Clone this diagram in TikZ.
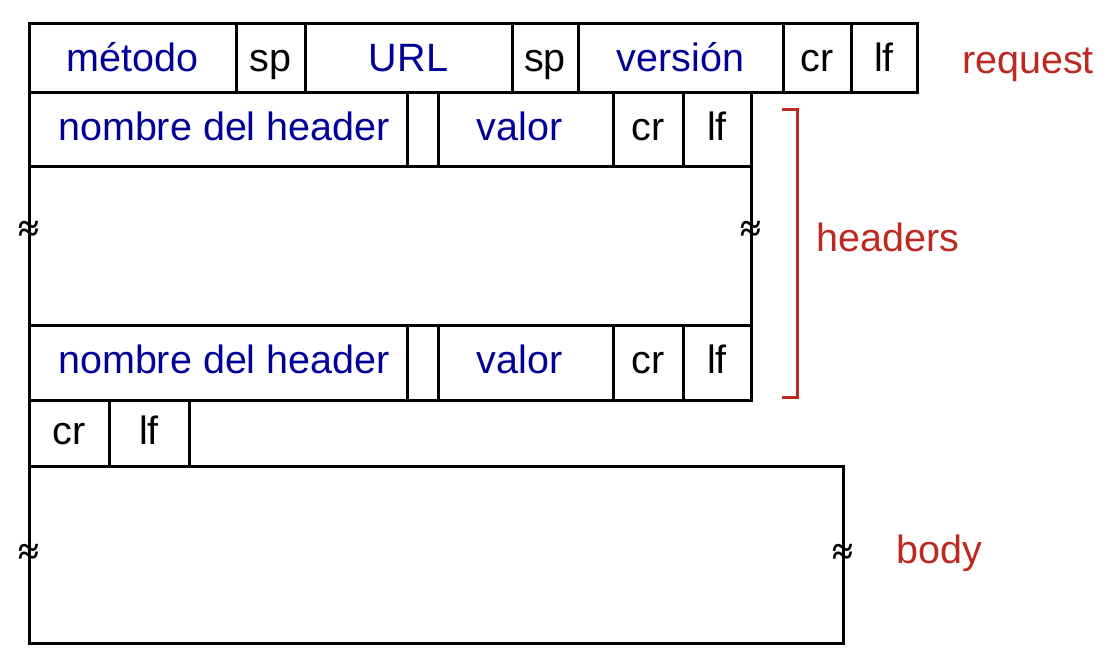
\documentclass[tikz,border=0pt]{standalone}
\usepackage{fontspec}
\setmainfont{Liberation Sans}
\newfontfamily\cutfont{Liberation Serif}
\usepackage{tikz}
\usetikzlibrary{positioning}

\definecolor{fieldblue}{RGB}{0,0,150}
\definecolor{tagred}{RGB}{190,40,35}

\tikzset{
    cell/.style={draw, line width=3pt, anchor=north west, outer sep=0pt,
        inner sep=0pt, text height=30pt, text depth=8pt, minimum height=#1},
    cell/.default=69pt,
    reqcell/.style={cell, text depth=3pt},
    field/.style={text=fieldblue},
    tag/.style={text=tagred, text height=30pt, text depth=8pt},
    cut/.style={font=\cutfont\fontsize{38}{38}\selectfont\bfseries, inner sep=0pt},
}

\begin{document}
\begin{tikzpicture}[x=1pt, y=-1pt, font=\fontsize{39.5}{44}\selectfont]
    \useasboundingbox (0,0) rectangle (1114,658);
    % request line
    \node[reqcell, field, minimum width=207pt] (met) at (29,24) {método};
    \node[reqcell, minimum width=69pt] (sp1) at (met.north east) {sp};
    \node[reqcell, field, minimum width=207pt] (url) at (sp1.north east) {URL};
    \node[reqcell, minimum width=66pt] (sp2) at (url.north east) {sp};
    \node[reqcell, field, minimum width=205pt] (ver) at (sp2.north east) {versión};
    \node[reqcell, minimum width=68pt] (cr0) at (ver.north east) {cr};
    \node[reqcell, minimum width=66pt] (lf0) at (cr0.north east) {lf};
    % header lines
    \node[cell=74pt, field, minimum width=378pt] (nom1) at (met.south west) {\hspace{12pt}nombre del header};
    \node[cell=74pt, minimum width=31pt] (sep1) at (nom1.north east) {};
    \node[cell=74pt, field, minimum width=175pt] (val1) at (sep1.north east) {valor\kern12pt};
    \node[cell=74pt, minimum width=70pt] (cr1) at (val1.north east) {cr};
    \node[cell=74pt, minimum width=68pt] (lf1) at (cr1.north east) {lf};
    \node[cell=158pt, minimum width=722pt] (hdrs) at (nom1.south west) {};
    \node[cell=75pt, field, minimum width=378pt] (nom2) at (hdrs.south west) {\hspace{12pt}nombre del header};
    \node[cell=75pt, minimum width=31pt] (sep2) at (nom2.north east) {};
    \node[cell=75pt, field, minimum width=175pt] (val2) at (sep2.north east) {valor\kern12pt};
    \node[cell=75pt, minimum width=70pt] (cr2) at (val2.north east) {cr};
    \node[cell=75pt, minimum width=68pt] (lf2) at (cr2.north east) {lf};
    % blank line
    \node[cell=66pt, minimum width=80pt] (cr3) at (nom2.south west) {cr};
    \node[cell=66pt, minimum width=80pt] (lf3) at (cr3.north east) {lf};
    % body
    \node[cell=177pt, minimum width=814pt] (body) at (cr3.south west) {};
    \node[cut] (cuta) at ([yshift=15pt]hdrs.west) {≈};
    \node[cut] (cutb) at ([yshift=15pt]hdrs.east) {≈};
    \node[cut] (cutc) at (body.west) {≈};
    \node[cut] (cutd) at (body.east) {≈};
    % bracket and labels
    \coordinate (bt) at (782,110);
    \coordinate (bb) at (782,397);
    \draw[tagred, line width=3pt] (bt) -- ++(15,0) |- (bb);
    \node[tag] (req) at (1028,63) {request};
    \node[tag] (hdr) at (888,240) {headers};
    \node[tag] (bdy) at (939,552) {body};
\end{tikzpicture}
\end{document}
